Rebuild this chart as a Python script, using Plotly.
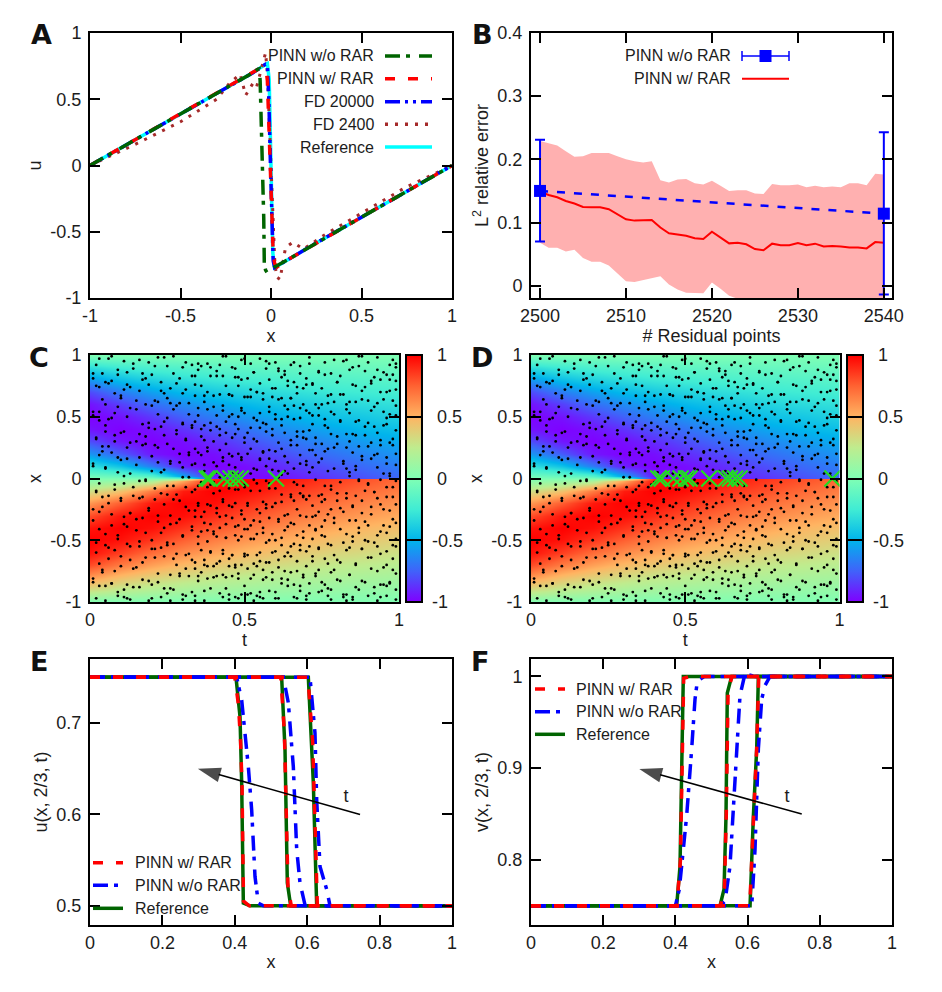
import plotly.graph_objects as go

W, H = 942, 992
FONT = "Liberation Sans"
TXT = "#1c1c1c"

# ---------- Panel A : u(x) ----------
a_ref_x = [-1, -.75, -.5, -.25, -.1, -.04, -.02, -.01, 0, .01, .02, .1, .25, .5, .75, 1]
a_ref_u = [0, .195, .385, .58, .70, .755, .77, .65, 0, -.66, -.77, -.705, -.585, -.39, -.195, 0]
a_rar_x = [-1, -.75, -.5, -.25, -.1, -.06, -.04, -.025, -.02, -.012, -.005, .005, .012, .02, .035, .1, .25, .5, .75, 1]
a_rar_u = [0, .195, .385, .58, .70, .735, .72, .70, .64, .3, 0, -.4, -.66, -.74, -.765, -.705, -.585, -.39, -.195, 0]
a_fd20_x = [-1, -.75, -.5, -.25, -.1, -.05, -.03, -.02, -.012, -.003, .004, .012, .02, .1, .25, .5, .75, 1]
a_fd20_u = [0, .195, .385, .58, .70, .745, .765, .76, .5, 0, -.4, -.72, -.77, -.705, -.585, -.39, -.195, 0]
a_fd24_x = [-1, -.75, -.5, -.3, -.23, -.17, -.14, -.1, -.08, -.05, -.03, -.02, 0, .02, .03, .05, .08, .12, .18, .3, .5, .75, 1]
a_fd24_u = [0, .16, .33, .50, .62, .69, .53, .62, .59, .76, .85, .70, 0, -.70, -.84, -.86, -.62, -.58, -.63, -.52, -.36, -.16, 0]
a_wo_x = [-1, -.75, -.5, -.25, -.1, -.075, -.065, -.06, -.052, -.045, -.04, -.037, -.03, -.02, -.005, .02, .1, .25, .5, .75, 1]
a_wo_u = [0, .195, .385, .58, .70, .725, .73, .64, .3, 0, -.4, -.74, -.79, -.81, -.795, -.765, -.705, -.585, -.39, -.195, 0]

# ---------- Panel B : L2 error ----------
b_n = list(range(2500, 2541))
b_mean = [.149, .1435, .14, .134, .13, .1245, .124, .124, .121, .113, .105, .103, .103, .104, .092, .083, .081,
          .079, .075, .074, .0855, .0765, .067, .068, .0655, .058, .056, .0665, .064, .064, .0675, .064, .0665,
          .062, .063, .062, .0605, .0605, .059, .069, .068]
b_up = [.229, .225, .222, .213, .204, .205, .21, .21, .21, .205, .2, .197, .195, .197, .167, .1635, .168, .169,
        .162, .16, .166, .158, .15, .151, .151, .146, .145, .161, .159, .159, .16, .156, .158, .156, .157, .156,
        .162, .162, .159, .177, .176]
b_lo = [.068, .06, .06, .054, .057, .044, .038, .038, .032, .02, .007, .006, .01, .012, .015, .002, -.006, -.011,
        -.012, -.012, .005, -.005, -.016, -.021, -.025, -.03, -.033, -.028, -.031, -.031, -.025, -.028, -.026,
        -.032, -.031, -.032, -.041, -.041, -.041, -.039, -.04]
b_wo_n = [2500, 2540]
b_wo_y = [.15, .114]
b_wo_plus = [.081, .129]
b_wo_minus = [.08, .128]

# ---------- Panels C, D : u(t, x) field, read by colour ----------
field_t = [0, .1, .2, .3, .4, .5, .6, .7, .8, .9, 1]
field_d = [0, .005, .02, .1, .2, .3, .4, .5, .6, .7, .8, .9, 1]   # distance below x = 0
field_u = [
    [0, 0, 0, 0, 0, 0, 0, 0, 0, 0, 0],
    [.016, .02, .04, .15, .90, .98, .96, .905, .84, .785, .73],
    [.063, .09, .17, .54, .95, .998, .957, .895, .832, .775, .725],
    [.309, .437, .674, .93, 1, .966, .90, .835, .775, .715, .665],
    [.588, .762, .94, 1, .964, .89, .82, .75, .695, .64, .597],
    [.809, .946, 1, .962, .885, .80, .73, .665, .613, .565, .525],
    [.951, 1, .957, .87, .785, .70, .635, .575, .525, .48, .45],
    [1, .955, .86, .755, .665, .595, .535, .485, .44, .41, .375],
    [.951, .837, .715, .62, .545, .48, .43, .39, .35, .325, .30],
    [.809, .67, .56, .475, .41, .36, .325, .295, .26, .245, .225],
    [.588, .46, .38, .32, .275, .24, .215, .195, .18, .165, .15],
    [.309, .24, .195, .165, .14, .125, .11, .10, .09, .08, .075],
    [0, 0, 0, 0, 0, 0, 0, 0, 0, 0, 0],
]
palette = [[0, "#8000ff"], [.125, "#4062fa"], [.25, "#00b4ec"], [.375, "#40ecd4"], [.5, "#80ffb4"],
           [.625, "#bfec8e"], [.75, "#ffb462"], [.875, "#ff6232"], [1, "#ff0000"]]

# Residual points, in hundredths: hand-typed estimates of the speckle, not dot-by-dot readings.
# The two lists are plotted together in both panels to approach the picture's density, which is still
# higher than what is listed here; individual dots therefore do not match the reference.
c_t100 = [3,14,7,31,16,42,22,57,35,50,66,43,83,58,97,71,90,79,99,88,
 9,1,25,12,39,20,47,27,63,36,53,76,61,93,68,85,74,98,87,95,
 17,6,33,5,48,19,29,64,34,41,80,49,55,92,70,72,99,81,91,94,
 11,24,2,38,13,45,23,60,30,44,78,52,54,89,67,69,97,82,86,96,
 4,26,10,37,18,51,21,62,32,46,75,56,59,84,65,73,98,77,93,88,
 15,8,28,3,40,22,49,35,71,43,60,83,58,95,68,79,91,99,50,64,
 6,19,1,34,12,47,25,54,39,74,30,66,86,45,81,57,96,72,90,62,
 21,10,33,5,41,16,52,28,63,37,78,48,69,92,55,85,99,76,44,59,
 2,13,24,8,36,18,46,31,61,42,73,53,84,67,94,80,50,89,97,70,
 27,7,17,38,4,51,22,58,32,65,45,77,56,87,71,93,83,98,35,62,
 12,29,3,43,20,34,9,55,40,68,26,75,60,88,49,82,96,73,64,91,
 5,23,15,37,1,46,30,59,41,70,52,79,63,86,54,95,72,99,84,66,
 18,8,32,11,44,25,53,36,67,48,76,57,90,61,81,69,94,97,39,87,
 2,28,14,40,21,6,47,33,62,50,74,42,83,58,92,71,78,98,65,89,
 10,24,4,35,16,45,27,56,38,69,51,80,60,93,75,85,43,96,99,66,
 19,7,31,13,41,22,54,3,64,46,73,34,88,57,82,68,95,91,77,49,
 1,26,11,37,17,48,29,61,39,72,52,84,65,79,55,90,98,70,44,86,
 15,5,33,23,42,9,50,36,59,47,75,63,87,56,94,67,81,97,40,73,
 20,12,30,2,44,25,53,38,66,49,78,58,92,69,85,62,99,76,35,89,
 8,28,16,39,6,46,21,60,32,71,51,83,64,74,96,54,88,93,43,68,
 13,3,24,34,18,47,27,55,41,65,37,80,57,90,72,86,98,50,77,61,
 4,22,10,36,15,43,31,63,48,70,53,79,59,95,67,84,91,45,99,74,
 17,7,29,1,40,20,52,35,62,46,76,56,89,69,81,94,38,73,97,64,
 11,25,5,33,14,49,26,58,42,68,51,87,60,92,75,83,44,96,71,78,
 2,19,9,30,23,37,12,54,45,66,34,77,61,85,55,93,70,99,82,48]
c_x100 = [97,93,99,94,96,92,98,95,93,97,94,99,96,93,92,98,94,96,93,99,
 88,85,91,86,90,84,89,85,87,91,86,84,89,88,85,90,87,84,91,86,
 80,77,83,78,82,76,81,79,76,83,78,80,77,82,81,76,79,83,77,80,
 72,69,75,70,74,68,71,73,69,75,68,72,70,74,69,73,71,68,75,70,
 64,61,67,62,60,66,63,65,61,67,60,64,66,62,65,60,63,67,61,64,
 56,53,59,54,58,52,55,57,53,59,52,56,58,54,57,52,55,59,53,56,
 48,45,51,46,50,44,49,47,45,51,44,48,46,50,47,44,49,51,45,48,
 40,37,43,38,42,36,41,39,37,43,36,40,38,42,41,36,39,43,37,40,
 32,29,35,30,34,28,33,31,29,35,28,32,30,34,31,28,33,35,29,32,
 24,21,27,22,26,20,25,23,21,27,20,24,22,26,23,20,25,27,21,24,
 16,13,19,14,18,12,17,15,13,19,12,16,14,18,15,12,17,19,13,16,
 8,5,11,6,10,4,9,7,5,11,4,8,6,10,7,4,9,11,5,8,
 -2,-5,1,-4,2,-6,-1,-3,-5,3,-6,-2,-4,1,-3,-6,-1,2,-5,-2,
 -10,-13,-7,-12,-8,-14,-9,-11,-13,-7,-14,-10,-12,-8,-11,-14,-9,-7,-13,-10,
 -18,-21,-15,-20,-16,-22,-17,-19,-21,-15,-22,-18,-20,-16,-19,-22,-17,-15,-21,-18,
 -26,-29,-23,-28,-24,-30,-25,-27,-29,-23,-30,-26,-28,-24,-27,-30,-25,-23,-29,-26,
 -34,-37,-31,-36,-32,-38,-33,-35,-37,-31,-38,-34,-36,-32,-35,-38,-33,-31,-37,-34,
 -42,-45,-39,-44,-40,-46,-41,-43,-45,-39,-46,-42,-44,-40,-43,-46,-41,-39,-45,-42,
 -50,-53,-47,-52,-48,-54,-49,-51,-53,-47,-54,-50,-52,-48,-51,-54,-49,-47,-53,-50,
 -58,-61,-55,-60,-56,-62,-57,-59,-61,-55,-62,-58,-60,-56,-59,-62,-57,-55,-61,-58,
 -66,-69,-63,-68,-64,-70,-65,-67,-69,-63,-70,-66,-68,-64,-67,-70,-65,-63,-69,-66,
 -74,-77,-71,-76,-72,-78,-73,-75,-77,-71,-78,-74,-76,-72,-75,-78,-73,-71,-77,-74,
 -82,-85,-79,-84,-80,-86,-81,-83,-85,-79,-86,-82,-84,-80,-83,-86,-81,-79,-85,-82,
 -90,-93,-87,-92,-88,-94,-89,-91,-93,-87,-94,-90,-92,-88,-91,-94,-89,-87,-93,-90,
 -97,-99,-95,-98,-96,-99,-97,-95,-98,-96,-99,-95,-97,-98,-96,-99,-95,-98,-96,-97]
d_t100 = [6,19,2,27,11,38,24,49,33,60,44,71,55,82,65,93,76,98,87,52,
 14,4,30,9,41,21,53,35,63,46,78,57,89,68,96,74,84,99,17,61,
 1,23,12,34,7,47,28,58,39,70,51,80,62,91,72,85,97,43,66,18,
 26,8,36,16,45,3,54,31,64,42,75,56,88,67,94,81,99,48,73,59,
 10,22,5,37,15,50,29,61,40,69,25,79,52,90,77,83,95,34,86,65,
 13,1,32,20,43,9,55,27,66,46,74,58,92,70,84,97,38,63,78,49,
 7,24,17,35,3,48,30,60,41,72,53,81,64,87,56,96,76,99,44,68,
 19,11,28,5,39,23,51,36,62,47,77,57,89,71,93,83,42,95,67,33,
 2,15,25,8,37,18,50,31,59,44,69,54,80,65,91,75,98,86,40,73,
 12,4,29,21,42,6,56,34,67,48,79,60,90,72,85,99,52,94,76,38,
 16,26,1,36,10,46,22,58,32,68,43,82,63,88,74,96,55,92,70,49,
 5,20,13,33,24,41,9,53,37,64,47,77,57,86,71,97,83,45,61,93,
 18,3,27,11,40,30,50,16,62,35,73,54,84,66,90,78,99,42,58,87,
 8,23,14,31,2,45,25,55,38,69,48,80,60,92,75,86,52,96,68,34,
 21,6,35,17,43,10,57,29,65,39,76,51,83,62,94,72,88,98,47,70,
 1,13,26,4,37,19,49,32,59,44,67,55,81,74,91,63,97,85,41,78,
 15,28,7,34,22,46,11,53,36,71,50,79,58,89,66,95,76,42,99,61,
 3,18,30,12,40,24,54,33,64,47,73,56,87,69,83,93,38,75,96,51,
 9,25,5,35,16,44,27,60,41,68,52,82,62,90,77,98,48,85,57,72,
 20,2,31,13,39,23,50,36,65,46,74,59,84,70,94,79,43,99,55,88,
 6,17,28,10,42,21,53,33,63,49,76,58,91,67,86,96,37,72,81,45,
 14,4,26,38,8,47,29,56,40,69,51,78,61,93,73,84,98,54,65,34,
 1,22,12,32,19,44,7,59,35,66,48,75,57,88,71,95,80,41,97,62,
 24,9,30,3,37,16,52,27,64,45,77,55,86,68,92,82,99,50,74,39,
 11,5,20,34,13,43,26,56,31,70,47,83,60,90,78,94,53,67,96,85]
d_x100 = [97,94,92,99,95,93,98,96,92,94,99,93,97,95,92,98,94,96,99,93,
 89,85,90,84,87,91,86,88,84,90,85,89,87,91,84,86,88,90,85,87,
 81,78,76,83,79,82,77,80,83,76,81,78,82,79,77,76,80,83,78,81,
 73,69,75,71,68,74,70,72,75,68,73,69,71,74,70,68,72,75,69,73,
 65,62,60,67,63,66,61,64,67,60,65,62,66,63,61,60,64,67,62,65,
 57,54,52,59,55,58,53,56,59,52,57,54,58,55,53,52,56,59,54,57,
 49,46,44,51,47,50,45,48,51,44,49,46,50,47,45,44,48,51,46,49,
 41,38,36,43,39,42,37,40,43,36,41,38,42,39,37,36,40,43,38,41,
 33,30,28,35,31,34,29,32,35,28,33,30,34,31,29,28,32,35,30,33,
 25,22,20,27,23,26,21,24,27,20,25,22,26,23,21,20,24,27,22,25,
 17,14,12,19,15,18,13,16,19,12,17,14,18,15,13,12,16,19,14,17,
 9,6,4,11,7,10,5,8,11,4,9,6,10,7,5,4,8,11,6,9,
 -1,-4,-6,2,-3,1,-5,-2,3,-6,-1,-4,2,-3,-5,-6,-2,1,-4,-1,
 -9,-12,-14,-7,-11,-8,-13,-10,-7,-14,-9,-12,-8,-11,-13,-14,-10,-7,-12,-9,
 -17,-20,-22,-15,-19,-16,-21,-18,-15,-22,-17,-20,-16,-19,-21,-22,-18,-15,-20,-17,
 -25,-28,-30,-23,-27,-24,-29,-26,-23,-30,-25,-28,-24,-27,-29,-30,-26,-23,-28,-25,
 -33,-36,-38,-31,-35,-32,-37,-34,-31,-38,-33,-36,-32,-35,-37,-38,-34,-31,-36,-33,
 -41,-44,-46,-39,-43,-40,-45,-42,-39,-46,-41,-44,-40,-43,-45,-46,-42,-39,-44,-41,
 -49,-52,-54,-47,-51,-48,-53,-50,-47,-54,-49,-52,-48,-51,-53,-54,-50,-47,-52,-49,
 -57,-60,-62,-55,-59,-56,-61,-58,-55,-62,-57,-60,-56,-59,-61,-62,-58,-55,-60,-57,
 -65,-68,-70,-63,-67,-64,-69,-66,-63,-70,-65,-68,-64,-67,-69,-70,-66,-63,-68,-65,
 -73,-76,-78,-71,-75,-72,-77,-74,-71,-78,-73,-76,-72,-75,-77,-78,-74,-71,-76,-73,
 -81,-84,-86,-79,-83,-80,-85,-82,-79,-86,-81,-84,-80,-83,-85,-86,-82,-79,-84,-81,
 -89,-92,-94,-87,-91,-88,-93,-90,-87,-94,-89,-92,-88,-91,-93,-94,-90,-87,-92,-89,
 -96,-99,-97,-95,-98,-96,-99,-97,-95,-98,-96,-99,-97,-95,-98,-96,-99,-97,-95,-96]
c_added_t = [.378, .386, .434, .455, .4725, .488, .602]
d_added_t = [.413, .424, .462, .485, .503, .514, .578, .632, .645, .662, .676, .977]

# ---------- Panel E : u(x, 2/3, t) ----------
e_ref = [([0, .4033, .4144, .419, .4236, .442, 1], [.75, .75, .707, .634, .503, .5, .5]),
         ([0, .5294, .5387, .5451, .5543, 1], [.75, .75, .671, .525, .5, .5]),
         ([0, .6031, .617, .6262, 1], [.75, .75, .634, .5, .5])]
e_rar = [([0, .4, .41, .416, .42, .424, .44, 1], [.75, .75, .72, .68, .63, .505, .5, .5]),
         ([0, .527, .537, .543, .547, .556, 1], [.75, .75, .69, .6, .52, .5, .5]),
         ([0, .602, .615, .622, .628, 1], [.75, .75, .68, .58, .5, .5])]
e_wo = [([0, .4052, .419, .4374, .4466, .4558, .465, .479, 1], [.75, .75, .725, .652, .605, .532, .503, .5, .5]),
        ([0, .5341, .5479, .5617, .5709, .5801, .5939, .605, 1], [.75, .75, .722, .652, .562, .525, .501, .5, .5]),
        ([0, .6077, .6215, .6262, .6354, .6538, .663, 1], [.75, .75, .689, .616, .543, .518, .5, .5])]
e_arrow_x, e_arrow_y = [.746, .298], [.6, .65]
e_t_x, e_t_y = .707, .6187

# ---------- Panel F : v(x, 2/3, t) ----------
f_ref = [([0, .4035, .4128, .4174, .4219, .44, 1], [.75, .75, .793, .884, 1, 1, 1]),
         ([0, .5236, .5347, .5402, .5438, .5558, 1], [.75, .75, .768, .848, .982, 1, 1]),
         ([0, .6068, .616, .6252, .6298, 1], [.75, .75, .848, .921, 1, 1])]
f_rar = [([0, .404, .414, .419, .423, .44, 1], [.75, .75, .8, .89, .998, 1, 1]),
         ([0, .525, .536, .541, .546, .557, 1], [.75, .75, .77, .85, .985, 1, 1]),
         ([0, .606, .617, .625, .631, 1], [.75, .75, .85, .92, 1, 1])]
f_wo = [([0, .4, .4108, .4219, .4312, .4451, .4543, .4608, .48, 1], [.75, .75, .768, .811, .848, .921, .975, .995, 1, 1]),
        ([0, .525, .5374, .5512, .5604, .5697, .5789, .5928, .62, 1], [.75, .75, .755, .793, .855, .921, .979, 1.003, 1, 1]),
        ([0, .6114, .6205, .6298, .639, .6482, .6621, 1], [.75, .75, .811, .921, .975, .99, 1, 1])]
f_arrow_x, f_arrow_y = [.75, .3], [.85, .899]
f_t_x, f_t_y = .709, .8685

DARKGREEN, RED, BLUE, BROWN, CYAN = "#006400", "#ff0000", "#0000ff", "#a52a2a", "#00ffff"
D_WO = "15px,6px,4px,9px"
D_RAR = "10px,13px"
D_FD = "15px,5px,3px,5px,3px,5px"
D_DOT = "3px,7px"
LW = 3.5

fig = go.Figure()

def line(x, y, color, dash="solid", width=LW, ax=""):
    fig.add_trace(go.Scatter(x=x, y=y, mode="lines", line=dict(color=color, width=width, dash=dash),
                             xaxis="x" + ax, yaxis="y" + ax, showlegend=False, hoverinfo="skip"))

# A
line(a_ref_x, a_ref_u, CYAN)
line(a_fd24_x, a_fd24_u, BROWN, D_DOT, 3)
line(a_fd20_x, a_fd20_u, BLUE, D_FD)
line(a_rar_x, a_rar_u, RED, D_RAR)
line(a_wo_x, a_wo_u, DARKGREEN, D_WO)

# B
fig.add_trace(go.Scatter(x=b_n + b_n[::-1], y=b_up + b_lo[::-1], mode="lines", fill="toself", fillcolor="#ffb0b0",
                         line=dict(width=0), xaxis="x2", yaxis="y2", showlegend=False, hoverinfo="skip"))
line(b_n, b_mean, RED, "solid", 2, "2")
fig.add_trace(go.Scatter(x=b_wo_n, y=b_wo_y, mode="lines+markers", line=dict(color=BLUE, width=2.5, dash="8px,9px"),
                         marker=dict(color=BLUE, size=12, symbol="square"),
                         error_y=dict(type="data", symmetric=False, array=b_wo_plus, arrayminus=b_wo_minus,
                                      color=BLUE, thickness=2, width=5),
                         xaxis="x2", yaxis="y2", showlegend=False, hoverinfo="skip"))

# C, D
field_x = [-d for d in field_d[::-1]] + field_d[1:]
field_z = [row for row in field_u[::-1]] + [[-v for v in row] for row in field_u[1:]]
N = "\u00a0"
CB = dict(thickness=16, thicknessmode="pixels", len=247 / H, lenmode="fraction", y=1 - 602 / H, yanchor="bottom",
          xanchor="left", xpad=0, ypad=0, outlinewidth=2, outlinecolor="black", ticks="inside", ticklen=16,
          tickcolor="black", tickwidth=1.5, tickvals=[-1, -.5, 0, .5, 1],
          ticktext=[N + "-1", N + "-0.5", N + N + "0", N + N + "0.5", N + N + "1"],
          tickfont=dict(family=FONT, size=18, color=TXT), ticklabelposition="outside")
speck_t = [v / 100 for v in c_t100 + d_t100]
speck_x = [v / 100 for v in c_x100 + d_x100]
for ax, cbx, added in (("3", 406, c_added_t), ("4", 847, d_added_t)):
    fig.add_trace(go.Heatmap(x=field_t, y=field_x, z=field_z, zmin=-1, zmax=1, zsmooth="best", colorscale=palette,
                             colorbar=dict(x=cbx / W, **CB), xaxis="x" + ax, yaxis="y" + ax, hoverinfo="skip"))
    fig.add_trace(go.Scatter(x=speck_t, y=speck_x, mode="markers", marker=dict(color="black", size=2.8),
                             xaxis="x" + ax, yaxis="y" + ax, showlegend=False, hoverinfo="skip"))
    fig.add_trace(go.Scatter(x=added, y=[0] * len(added), mode="markers",
                             marker=dict(symbol="x-thin", size=16, line=dict(color="#22dd22", width=2.2)),
                             xaxis="x" + ax, yaxis="y" + ax, showlegend=False, hoverinfo="skip"))

# E, F
for ax, ref, rar, wo, ax_x, ax_y, t_x, t_y in (("5", e_ref, e_rar, e_wo, e_arrow_x, e_arrow_y, e_t_x, e_t_y),
                                              ("6", f_ref, f_rar, f_wo, f_arrow_x, f_arrow_y, f_t_x, f_t_y)):
    for s in ref:
        line(s[0], s[1], DARKGREEN, "solid", LW, ax)
    for s in wo:
        line(s[0], s[1], BLUE, D_WO, LW, ax)
    for s in rar:
        line(s[0], s[1], RED, D_RAR, LW, ax)
    fig.add_trace(go.Scatter(x=ax_x, y=ax_y, mode="lines+markers", line=dict(color="black", width=1.6),
                             marker=dict(symbol="arrow", angleref="previous", size=[0, 24], color="black",
                                         line=dict(width=0)),
                             xaxis="x" + ax, yaxis="y" + ax, showlegend=False, hoverinfo="skip"))
    fig.add_trace(go.Scatter(x=[t_x], y=[t_y], mode="text", text=["t"],
                             textfont=dict(family=FONT, size=18, color=TXT),
                             xaxis="x" + ax, yaxis="y" + ax, showlegend=False, hoverinfo="skip"))

# ---------- layout ----------
def axes(l, r, t, b, xr, yr, xt, xl, yt, yl, xtitle, ytitle, xstand=4, ystand=4):
    base = dict(showgrid=False, zeroline=False, showline=True, linecolor="black", linewidth=2, mirror="allticks",
                ticks="inside", ticklen=10, tickwidth=1.5, tickcolor="black",
                tickfont=dict(family=FONT, size=18, color=TXT))
    xa = dict(base, domain=[l / W, r / W], range=xr, tickmode="array", tickvals=xt, ticktext=xl,
              title=dict(text=xtitle, standoff=xstand, font=dict(family=FONT, size=18, color=TXT)))
    ya = dict(base, domain=[1 - b / H, 1 - t / H], range=yr, tickmode="array", tickvals=yt, ticktext=yl,
              ticklabelstandoff=3,
              title=dict(text=ytitle, standoff=ystand, font=dict(family=FONT, size=18, color=TXT)))
    return xa, ya

x1, y1 = axes(90, 452, 33, 298, [-1, 1], [-1, 1], [-1, -.5, 0, .5, 1], ["-1", "-0.5", "0", "0.5", "1"],
              [-1, -.5, 0, .5, 1], ["-1", "-0.5", "0", "0.5", "1"], "x", "u")
x2, y2 = axes(531, 892, 33, 298, [2498.95, 2540.95], [-.0195, .4], [2500, 2510, 2520, 2530, 2540],
              ["2500", "2510", "2520", "2530", "2540"], [0, .1, .2, .3, .4], ["0", "0.1", "0.2", "0.3", "0.4"],
              "# Residual points", "L<sup>2</sup> relative error")
x3, y3 = axes(90, 399, 355, 602, [0, 1], [-1, 1], [0, .5, 1], ["0", "0.5", "1"],
              [-1, -.5, 0, .5, 1], ["-1", "-0.5", "0", "0.5", "1"], "t", "x")
x4, y4 = axes(531, 839.5, 355, 602, [0, 1], [-1, 1], [0, .5, 1], ["0", "0.5", "1"],
              [-1, -.5, 0, .5, 1], ["-1", "-0.5", "0", "0.5", "1"], "t", "x")
x5, y5 = axes(90, 452, 659, 925, [0, 1], [.479, .77], [0, .2, .4, .6, .8, 1], ["0", "0.2", "0.4", "0.6", "0.8", "1"],
              [.5, .6, .7], ["0.5", "0.6", "0.7"], "x", "u(x, 2/3, t)")
x6, y6 = axes(531, 892, 659, 925, [0, 1], [.729, 1.019], [0, .2, .4, .6, .8, 1], ["0", "0.2", "0.4", "0.6", "0.8", "1"],
              [.8, .9, 1], ["0.8", "0.9", "1"], "x", "v(x, 2/3, t)")

shapes, annos = [], []

def px(x):
    return x / W

def py(y):
    return 1 - y / H

def text(x, y, s, anchor="left", size=16):
    annos.append(dict(x=px(x), y=py(y), xref="paper", yref="paper", text=s, showarrow=False, xanchor=anchor,
                      yanchor="middle", font=dict(family=FONT, size=size, color=TXT), align=anchor))

def sample(x0, x1_, y, color, dash="solid", width=LW):
    shapes.append(dict(type="line", xref="paper", yref="paper", x0=px(x0), x1=px(x1_), y0=py(y), y1=py(y),
                       line=dict(color=color, width=width, dash=dash)))

# panel letters
for letter, x, y in (("A", 41, 34), ("B", 482, 34), ("C", 39, 358), ("D", 482, 358), ("E", 39, 661), ("F", 480, 661)):
    annos.append(dict(x=px(x), y=py(y), xref="paper", yref="paper", text="<b>%s</b>" % letter, showarrow=False,
                      xanchor="center", yanchor="middle", font=dict(family="DejaVu Sans", size=27, color="#111111")))

# legend A
rows_a = [("PINN w/o RAR", DARKGREEN, D_WO), ("PINN w/ RAR", RED, D_RAR), ("FD 20000", BLUE, D_FD),
          ("FD 2400", BROWN, D_DOT), ("Reference", CYAN, "solid")]
for y, (lab, col, dash) in zip([56, 78.7, 101.7, 124.3, 147], rows_a):
    text(376, y, lab, "right")
    sample(385, 432, y, col, dash)

# legend B
text(733, 56, "PINN w/o RAR", "right")
sample(742, 789, 56, BLUE, "solid", 1.5)
for cap in (742, 789):
    shapes.append(dict(type="line", xref="paper", yref="paper", x0=px(cap), x1=px(cap), y0=py(51), y1=py(61),
                       line=dict(color=BLUE, width=1.5)))
shapes.append(dict(type="rect", xref="paper", yref="paper", x0=px(759.5), x1=px(771.5), y0=py(50), y1=py(62),
                   fillcolor=BLUE, line=dict(width=0)))
text(733, 78.7, "PINN w/ RAR", "right")
sample(742, 789, 78.7, RED, "solid", 2)

# legends E, F
for sx, tx, ys in ((93, 133, (862.7, 885.3, 908.3)), (535, 574, (689, 711.7, 734.3))):
    text(tx, ys[0], "PINN w/ RAR")
    sample(sx, sx + 30, ys[0], RED, D_RAR)
    text(tx, ys[1], "PINN w/o RAR")
    sample(sx, sx + 30, ys[1], BLUE, D_WO)
    text(tx, ys[2], "Reference")
    sample(sx, sx + 30, ys[2], DARKGREEN)

fig.update_layout(width=W, height=H, autosize=False, margin=dict(l=0, r=0, t=0, b=0, autoexpand=False),
                  plot_bgcolor="white", paper_bgcolor="white", showlegend=False, font=dict(family=FONT, color=TXT),
                  xaxis=x1, yaxis=y1, xaxis2=dict(x2, anchor="y2"), yaxis2=dict(y2, anchor="x2"),
                  xaxis3=dict(x3, anchor="y3"), yaxis3=dict(y3, anchor="x3"),
                  xaxis4=dict(x4, anchor="y4"), yaxis4=dict(y4, anchor="x4"),
                  xaxis5=dict(x5, anchor="y5"), yaxis5=dict(y5, anchor="x5"),
                  xaxis6=dict(x6, anchor="y6"), yaxis6=dict(y6, anchor="x6"),
                  shapes=shapes, annotations=annos)

fig.write_html("out.html", config={"displayModeBar": False}, post_script="document.body.style.margin='0';")
